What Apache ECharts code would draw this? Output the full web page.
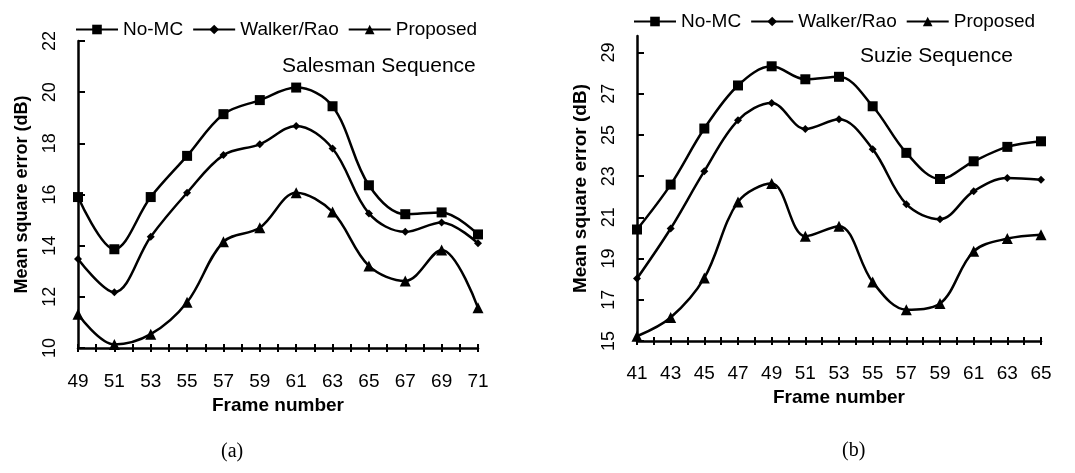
<!DOCTYPE html>
<html>
<head>
<meta charset="utf-8">
<script src="https://cdn.jsdelivr.net/npm/echarts@6/dist/echarts.min.js"></script>
<style>
  html, body { margin: 0; padding: 0; background: #fff; }
  #main { width: 1075px; height: 473px; }
</style>
</head>
<body>
<div id="main"></div>
<script>
// (a) Salesman sequence
var framesA = [49, 51, 53, 55, 57, 59, 61, 63, 65, 67, 69, 71];
var noMcA = [15.9, 13.86, 15.9, 17.51, 19.14, 19.69, 20.18, 19.45, 16.36, 15.23, 15.3, 14.44];
var walkerA = [13.48, 12.18, 14.35, 16.07, 17.54, 17.96, 18.68, 17.8, 15.26, 14.54, 14.91, 14.09];
var proposedA = [11.32, 10.14, 10.54, 11.79, 14.15, 14.7, 16.07, 15.32, 13.21, 12.62, 13.83, 11.57];

// (b) Suzie sequence
var framesB = [41, 43, 45, 47, 49, 51, 53, 55, 57, 59, 61, 63, 65];
var noMcB = [20.41, 22.59, 25.31, 27.4, 28.33, 27.7, 27.82, 26.39, 24.13, 22.86, 23.72, 24.42, 24.69];
var walkerB = [18.03, 20.46, 23.24, 25.71, 26.55, 25.29, 25.76, 24.31, 21.64, 20.91, 22.27, 22.91, 22.83];
var proposedB = [15.23, 16.14, 18.06, 21.75, 22.64, 20.08, 20.57, 17.86, 16.52, 16.82, 19.35, 19.97, 20.16];

var seriesNames = ['No-MC', 'Walker/Rao', 'Proposed'];
var symbols = ['rect', 'diamond', 'triangle'];
var symbolSizes = [10, 8, 11];

var sans = '"Liberation Sans", Arial, sans-serif';

var myChart = echarts.init(document.getElementById('main'));

function pairs(xs, ys) {
    return xs.map(function (x, i) { return [x, ys[i]]; });
}

function oddOnly(v) {
    return v % 2 === 1 ? String(v) : '';
}

function makeSeries(name, k, xIdx, yIdx, data) {
    return {
        name: name,
        type: 'line',
        xAxisIndex: xIdx,
        yAxisIndex: yIdx,
        smooth: 0.35,
        symbol: symbols[k],
        symbolSize: symbolSizes[k],
        lineStyle: {color: '#000', width: 2.5},
        itemStyle: {color: '#000'},
        data: data
    };
}

// main x axis with labels + outside ticks, and a twin with inside ticks (cross ticks)
function xAxes(gridIndex, min, max, gap, margin) {
    return [
        {
            type: 'value', gridIndex: gridIndex, position: 'bottom', min: min, max: max, interval: 1,
            name: 'Frame number', nameLocation: 'middle', nameGap: gap,
            nameTextStyle: {color: '#000', fontFamily: sans, fontSize: 19, fontWeight: 'bold'},
            axisLine: {lineStyle: {color: '#000', width: 2.5}},
            axisTick: {length: 4, lineStyle: {color: '#000', width: 2}},
            axisLabel: {color: '#000', fontFamily: sans, fontSize: 19, margin: margin, formatter: oddOnly},
            splitLine: {show: false}
        },
        {
            type: 'value', gridIndex: gridIndex, position: 'bottom', min: min, max: max, interval: 1,
            axisLine: {show: false},
            axisTick: {inside: true, length: 4, lineStyle: {color: '#000', width: 2}},
            axisLabel: {show: false},
            splitLine: {show: false}
        }
    ];
}

function yAxis(gridIndex, min, max, nameSize) {
    return {
        type: 'value', gridIndex: gridIndex, min: min, max: max, interval: 2,
        name: 'Mean square error (dB)', nameLocation: 'middle', nameGap: 47,
        nameTextStyle: {color: '#000', fontFamily: sans, fontSize: nameSize, fontWeight: 'bold'},
        axisLine: {show: true, lineStyle: {color: '#000', width: 2.5}},
        axisTick: {inside: true, length: 7, lineStyle: {color: '#000', width: 2}},
        axisLabel: {color: '#000', fontFamily: sans, fontSize: 18, rotate: 90, margin: 19, showMaxLabel: max % 2 === min % 2},
        splitLine: {show: false}
    };
}

var legendText = {color: '#000', fontFamily: sans, fontSize: 19};

var option = {
    backgroundColor: '#fff',
    animation: false,
    title: [
        {text: 'Salesman Sequence', left: 277, top: 51, textStyle: {color: '#000', fontFamily: sans, fontSize: 21, fontWeight: 'normal'}},
        {text: 'Suzie Sequence', left: 855, top: 41, textStyle: {color: '#000', fontFamily: sans, fontSize: 21, fontWeight: 'normal'}},
        {text: '(a)', left: 216, top: 437, textStyle: {color: '#000', fontFamily: '"Liberation Serif", serif', fontSize: 20, fontWeight: 'normal'}},
        {text: '(b)', left: 837, top: 436, textStyle: {color: '#000', fontFamily: '"Liberation Serif", serif', fontSize: 20, fontWeight: 'normal'}}
    ],
    legend: [
        {left: 70, top: 15, itemWidth: 42, itemHeight: 12, itemGap: 9, selectedMode: false, textStyle: legendText, data: seriesNames},
        {left: 628, top: 7, itemWidth: 42, itemHeight: 12, itemGap: 9, selectedMode: false, textStyle: legendText, data: seriesNames}
    ],
    grid: [
        {left: 78, top: 41, width: 400, height: 307},
        {left: 637, top: 36, width: 404, height: 305}
    ],
    xAxis: xAxes(0, 49, 71, 46, 24).concat(xAxes(1, 41, 65, 46, 23)),
    yAxis: [yAxis(0, 10, 22, 18), yAxis(1, 15, 29.8, 19)],
    series: [
        makeSeries(seriesNames[0], 0, 0, 0, pairs(framesA, noMcA)),
        makeSeries(seriesNames[1], 1, 0, 0, pairs(framesA, walkerA)),
        makeSeries(seriesNames[2], 2, 0, 0, pairs(framesA, proposedA)),
        makeSeries(seriesNames[0], 0, 2, 1, pairs(framesB, noMcB)),
        makeSeries(seriesNames[1], 1, 2, 1, pairs(framesB, walkerB)),
        makeSeries(seriesNames[2], 2, 2, 1, pairs(framesB, proposedB))
    ]
};

myChart.setOption(option);
</script>
</body>
</html>
